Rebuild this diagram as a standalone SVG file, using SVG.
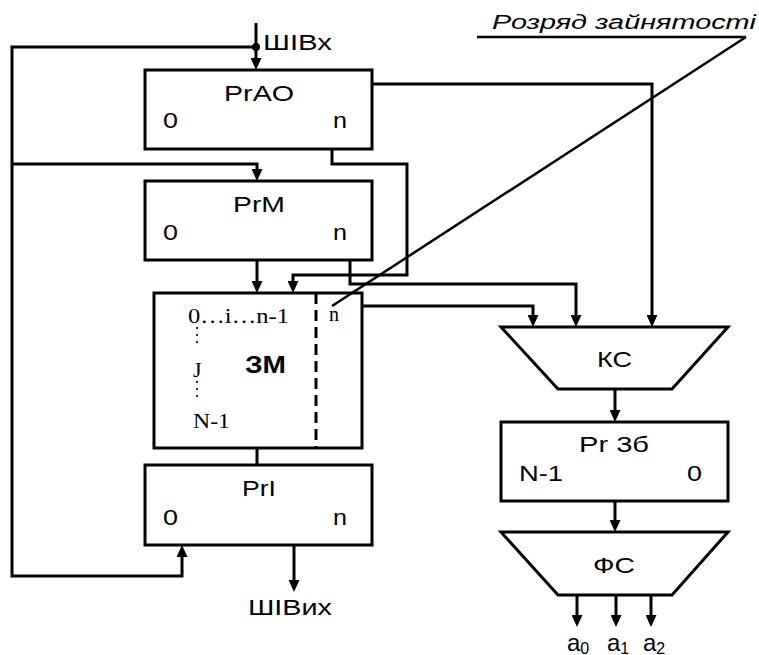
<svg xmlns="http://www.w3.org/2000/svg" width="759" height="655" viewBox="0 0 759 655">
<defs>
<marker id="arr" viewBox="0 0 12 11" refX="8" refY="5.5" markerWidth="12" markerHeight="11" markerUnits="userSpaceOnUse" orient="auto">
<path d="M0,0 L12,5.5 L0,11 z" fill="#000"/>
</marker>
<style>
.box{fill:#fff;stroke:#000;stroke-width:3}
.ln{fill:none;stroke:#000;stroke-width:3}
.ar{fill:none;stroke:#000;stroke-width:3;marker-end:url(#arr)}
.thin{fill:none;stroke:#000;stroke-width:2.5}
.s{font-family:"Liberation Sans",Arial,sans-serif;font-size:22px;fill:#000}
.a{font-family:"Liberation Sans",Arial,sans-serif;font-size:24px;fill:#000}
.b{font-family:"Liberation Sans",Arial,sans-serif;font-size:24px;font-weight:bold;fill:#000}
.r{font-family:"Liberation Serif","Times New Roman",serif;font-size:20px;fill:#000}
.it{font-family:"Liberation Sans",Arial,sans-serif;font-size:20px;font-style:italic;fill:#000}
.sub{font-size:16px}
</style>
</defs>
<rect width="759" height="655" fill="#fff"/>

<g id="connectors">
<line class="ar" x1="256" y1="23" x2="256" y2="66"/>
<circle cx="256" cy="47" r="4" fill="#000"/>
<polyline class="ar" points="256,47 12,47 12,576 182,576 182,549"/>
<polyline class="ar" points="12,164 257,164 257,177"/>
<polyline class="ar" points="372,84 652,84 652,323"/>
<polyline class="ar" points="332,149 332,164 407,164 407,275 293,275 293,289"/>
<line class="ar" x1="257" y1="260" x2="257" y2="289"/>
<polyline class="ar" points="350,260 350,284 576,284 576,323"/>
<polyline class="ar" points="362,306 533,306 533,323"/>
<line class="ln" x1="257" y1="448" x2="257" y2="465"/>
<line class="ar" x1="294" y1="545" x2="294" y2="588"/>
<line class="ar" x1="615" y1="389" x2="615" y2="418"/>
<line class="ar" x1="615" y1="501" x2="615" y2="528"/>
<line class="ar" x1="577" y1="595" x2="577" y2="623"/>
<line class="ar" x1="616" y1="595" x2="616" y2="623"/>
<line class="ar" x1="651" y1="595" x2="651" y2="623"/>
</g>

<g id="PrAO">
<rect class="box" x="145" y="70" width="227" height="79"/>
<text class="s" x="224" y="101" textLength="70" lengthAdjust="spacingAndGlyphs">PrAO</text>
<text class="s" x="163" y="128" textLength="15" lengthAdjust="spacingAndGlyphs">0</text>
<text class="s" x="333" y="128" textLength="14" lengthAdjust="spacingAndGlyphs">n</text>
</g>

<g id="PrM">
<rect class="box" x="145" y="181" width="227" height="79"/>
<text class="s" x="233" y="212" textLength="52" lengthAdjust="spacingAndGlyphs">PrM</text>
<text class="s" x="163" y="240" textLength="15" lengthAdjust="spacingAndGlyphs">0</text>
<text class="s" x="333" y="240" textLength="14" lengthAdjust="spacingAndGlyphs">n</text>
</g>

<g id="ZM">
<rect class="box" x="154" y="293" width="208" height="155"/>
<line x1="316" y1="293" x2="316" y2="448" stroke="#000" stroke-width="3" stroke-dasharray="11 6"/>
<text class="r" x="188" y="323" textLength="101" lengthAdjust="spacingAndGlyphs">0…i…n-1</text>
<text class="r" x="329" y="321">n</text>
<text class="r" x="193" y="377" style="font-size:22px">J</text>
<text class="r" x="193" y="428" textLength="37" lengthAdjust="spacingAndGlyphs">N-1</text>
<g fill="#000">
<circle cx="197" cy="328" r="1.1"/><circle cx="197" cy="335" r="1.1"/><circle cx="197" cy="342" r="1.1"/>
<circle cx="197" cy="382" r="1.1"/><circle cx="197" cy="389" r="1.1"/><circle cx="197" cy="396" r="1.1"/>
</g>
<text class="b" x="245" y="373" textLength="41" lengthAdjust="spacingAndGlyphs">ЗМ</text>
</g>

<g id="PrI">
<rect class="box" x="145" y="465" width="227" height="80"/>
<text class="s" x="242" y="496" textLength="34" lengthAdjust="spacingAndGlyphs">PrI</text>
<text class="s" x="163" y="525" textLength="15" lengthAdjust="spacingAndGlyphs">0</text>
<text class="s" x="333" y="525" textLength="14" lengthAdjust="spacingAndGlyphs">n</text>
</g>

<g id="KS">
<polygon class="box" points="501,327 728,327 672,389 558,389"/>
<text class="s" x="597" y="367" textLength="35" lengthAdjust="spacingAndGlyphs">КС</text>
</g>

<g id="Pr3b">
<rect class="box" x="501" y="422" width="227" height="79"/>
<text class="s" x="579" y="452" textLength="70" lengthAdjust="spacingAndGlyphs">Pr 3б</text>
<text class="s" x="519" y="481" textLength="44" lengthAdjust="spacingAndGlyphs">N-1</text>
<text class="s" x="687" y="481" textLength="15" lengthAdjust="spacingAndGlyphs">0</text>
</g>

<g id="FS">
<polygon class="box" points="501,532 728,532 672,595 558,595"/>
<text class="s" x="593" y="573" textLength="42" lengthAdjust="spacingAndGlyphs">ФС</text>
</g>

<g id="labels">
<text class="s" x="263" y="50" textLength="69" lengthAdjust="spacingAndGlyphs">ШІВх</text>
<text class="s" x="248" y="615" textLength="84" lengthAdjust="spacingAndGlyphs">ШІВих</text>
<text class="a" x="567" y="651">a<tspan class="sub" dy="3">0</tspan></text>
<text class="a" x="607" y="651">a<tspan class="sub" dy="3">1</tspan></text>
<text class="a" x="643" y="651">a<tspan class="sub" dy="3">2</tspan></text>
</g>

<g id="annotation">
<text class="it" x="492" y="29" textLength="264" lengthAdjust="spacingAndGlyphs">Розряд зайнятості</text>
<line class="thin" x1="477" y1="37" x2="746" y2="37"/>
<line class="thin" x1="746" y1="37" x2="332" y2="306"/>
</g>
</svg>
